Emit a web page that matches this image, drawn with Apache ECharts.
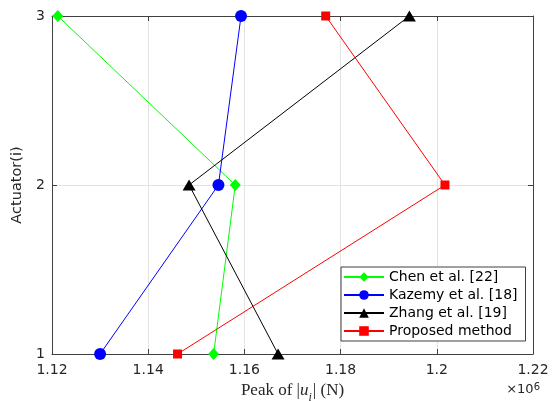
<!DOCTYPE html>
<html>
<head>
<meta charset="utf-8">
<script src="https://cdn.jsdelivr.net/npm/echarts@6/dist/echarts.min.js"></script>
<style>
  html, body { margin: 0; padding: 0; background: #fff; }
  #chart { width: 556px; height: 401px; }
</style>
</head>
<body>
<div id="chart"></div>
<script>
// Actuator index on the vertical axis
const actuators = [1, 2, 3];

// Peak control force |u_i| in newtons, one entry per actuator (1, 2, 3)
const chenPeak     = [1153600, 1158100, 1121200];
const kazemyPeak   = [1130000, 1154600, 1159300];
const zhangPeak    = [1167000, 1148500, 1194300];
const proposedPeak = [1146100, 1201700, 1176900];

const seriesNames = ['Chen et al. [22]', 'Kazemy et al. [18]', 'Zhang et al. [19]', 'Proposed method'];

// x-axis range in newtons and the exponent shown in the corner
const xMin = 1120000, xMax = 1220000, xStep = 20000;
const xScale = 1e6;

const sansFont = 'DejaVu Sans';
const axisColor = '#404040';
const textColor = '#262626';

function pairs(values) {
  return values.map((v, i) => [v, actuators[i]]);
}

function lineSeries(name, values, color, symbol, size) {
  return {
    name: name,
    type: 'line',
    data: pairs(values),
    symbol: symbol,
    symbolSize: size,
    clip: false,
    lineStyle: { color: color, width: 1 },
    itemStyle: { color: color },
    emphasis: { disabled: true },
    animation: false
  };
}

const chart = echarts.init(document.getElementById('chart'), null, { renderer: 'canvas' });

const plainAxisLine = { show: true, lineStyle: { color: axisColor, width: 1 } };
const innerTicks = { show: true, inside: true, length: 5, lineStyle: { color: axisColor } };

chart.setOption({
  backgroundColor: '#ffffff',
  animation: false,
  grid: { left: 52, right: 23, top: 16, bottom: 47, containLabel: false, outerBoundsMode: 'none' },
  xAxis: [
    {
      type: 'value',
      min: xMin, max: xMax, interval: xStep,
      position: 'bottom',
      axisLine: plainAxisLine,
      axisTick: innerTicks,
      splitLine: { show: true, lineStyle: { color: '#e3e3e3', width: 1 } },
      axisLabel: {
        margin: 9,
        color: textColor,
        fontFamily: sansFont,
        fontSize: 14,
        formatter: v => String(+(v / xScale).toFixed(2))
      },
      name: '{t|Peak of |}{u|u}{s|i}{t|| (N)}',
      nameLocation: 'middle',
      nameGap: 26,
      nameTextStyle: {
        rich: {
          t: { fontFamily: 'Liberation Serif', fontSize: 17, color: textColor },
          u: { fontFamily: 'Liberation Serif', fontSize: 17, fontStyle: 'italic', color: textColor },
          s: { fontFamily: 'Liberation Serif', fontSize: 12, fontStyle: 'italic', color: textColor, verticalAlign: 'bottom', padding: [0, 1, -5, 0] }
        }
      }
    },
    {
      type: 'value',
      min: xMin, max: xMax, interval: xStep,
      position: 'top',
      axisLine: plainAxisLine,
      axisTick: innerTicks,
      splitLine: { show: false },
      axisLabel: { show: false }
    }
  ],
  yAxis: [
    {
      type: 'value',
      min: 1, max: 3, interval: 1,
      position: 'left',
      axisLine: plainAxisLine,
      axisTick: innerTicks,
      splitLine: { show: true, lineStyle: { color: '#e3e3e3', width: 1 } },
      axisLabel: { margin: 7, color: textColor, fontFamily: sansFont, fontSize: 14 },
      name: 'Actuator(i)',
      nameLocation: 'middle',
      nameRotate: 90,
      nameGap: 23,
      nameTextStyle: { fontFamily: sansFont, fontSize: 14.5, color: textColor }
    },
    {
      type: 'value',
      min: 1, max: 3, interval: 1,
      position: 'right',
      axisLine: plainAxisLine,
      axisTick: innerTicks,
      splitLine: { show: false },
      axisLabel: { show: false }
    }
  ],
  legend: {
    orient: 'vertical',
    left: 341,
    top: 267,
    width: 179,
    padding: [3, 8, 3, 2],
    itemGap: 4,
    itemWidth: 40,
    itemHeight: 12,
    backgroundColor: '#ffffff',
    borderColor: axisColor,
    borderWidth: 1,
    selectedMode: false,
    data: seriesNames,
    textStyle: { fontFamily: sansFont, fontSize: 14, color: '#000', lineHeight: 14, padding: [0, 0, 0, 0] }
  },
  graphic: [
    {
      type: 'text',
      right: 16,
      top: 382,
      style: {
        text: '{m|×10}{e|6}',
        rich: {
          m: { fontFamily: sansFont, fontSize: 13, fill: textColor },
          e: { fontFamily: sansFont, fontSize: 10, fill: textColor, verticalAlign: 'top', padding: [0, 0, 6, 0] }
        }
      }
    }
  ],
  series: [
    lineSeries(seriesNames[0], chenPeak, '#00ff00', 'diamond', [11, 12]),
    lineSeries(seriesNames[1], kazemyPeak, '#0000ff', 'circle', 12),
    lineSeries(seriesNames[2], zhangPeak, '#000000', 'triangle', [13, 11]),
    lineSeries(seriesNames[3], proposedPeak, '#ff0000', 'rect', 9)
  ]
});
</script>
</body>
</html>
